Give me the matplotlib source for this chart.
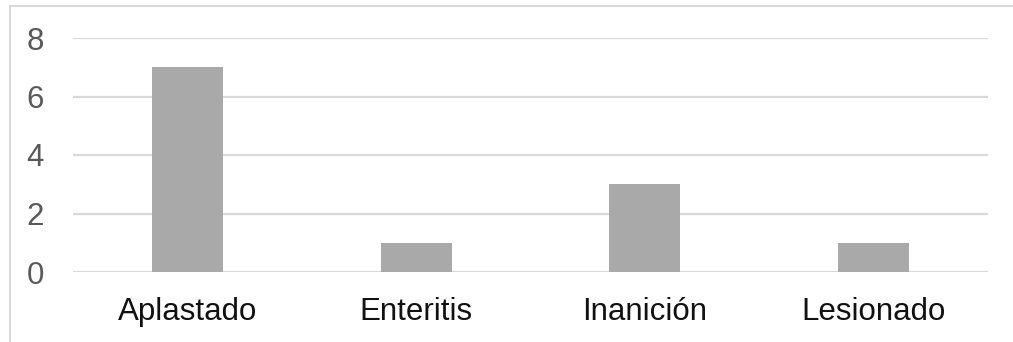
import matplotlib.pyplot as plt
from matplotlib.patches import Rectangle

plt.rcParams['font.family'] = ['Liberation Sans', 'DejaVu Sans']

categories = ['Aplastado', 'Enteritis', 'Inanición', 'Lesionado']
counts = [7, 1, 3, 1]
yticks = [0, 2, 4, 6, 8]

W, H = 1013, 342
fig = plt.figure(figsize=(W / 100, H / 100), dpi=100)
# plot area in pixel coordinates
left, right, top, bottom = 73, 988, 38, 272
ax = fig.add_axes([left / W, 1 - bottom / H, (right - left) / W, (bottom - top) / H])

ax.bar(range(len(categories)), counts, width=0.31, color='#a9a9a9', zorder=3)
ax.set_xlim(-0.5, len(categories) - 0.5)
ax.set_ylim(0, 8)
ax.set_yticks(yticks)
ax.set_xticks(range(len(categories)))
ax.set_xticklabels(categories, fontsize=22.5, color='#111111')
ax.set_yticklabels([str(t) for t in yticks], fontsize=22.5, color='#595959')
ax.tick_params(axis='y', length=0, pad=21)
ax.tick_params(axis='x', length=0, pad=18)
ax.grid(axis='y', color='#d9d9d9', linewidth=1.6, zorder=0)
for s in ax.spines.values():
    s.set_visible(False)

# light outer frame of the chart
fig.patches.append(Rectangle((10 / W, -0.1), 1.2, 1.1 - 6 / H, transform=fig.transFigure,
                             fill=False, edgecolor='#d9d9d9', linewidth=1.5))

fig.savefig('out.png', dpi=100)
